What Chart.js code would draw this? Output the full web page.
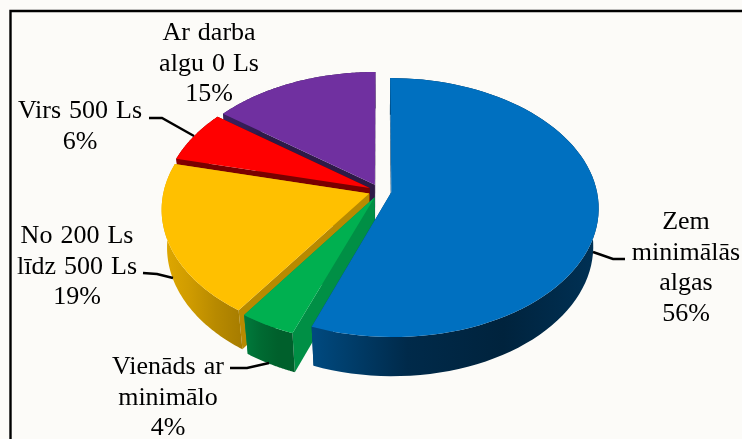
<!DOCTYPE html>
<html lang="lv">
<head>
<meta charset="utf-8">
<title>Darba alga</title>
<style>
  html, body { margin: 0; padding: 0; background: #FCFBF8; }
  #wrap { width: 742px; height: 439px; overflow: hidden; }
</style>
<script src="https://cdn.jsdelivr.net/npm/chart.js@4/dist/chart.umd.js"></script>
</head>
<body>
<div id="wrap"><canvas id="pie" width="742" height="439"></canvas></div>
<script>
const categories = ['Zem minimālās algas', 'Vienāds ar minimālo', 'No 200 Ls līdz 500 Ls', 'Virs 500 Ls', 'Ar darba algu 0 Ls'];
// they round to the printed percentages
const shares = [55.7, 3.9, 19.2, 6.5, 14.7];

const topColors = ['#0070C0', '#00B050', '#FFC000', '#FF0000', '#7030A0'];
const cutColors = ['#003E6C', '#008F45', '#B88A00', '#7A0000', '#2E1A47'];
const rimColors = [
  ['#004A80', '#002A4A', '#00233D', '#003155'],
  ['#007A3C', '#006A32', '#00602C', '#00602C'],
  ['#E0A900', '#D09C00', '#B88A00', '#A67C00'],
  ['#8A0000', '#7A0000', '#7A0000', '#7A0000'],
  ['#3A2060', '#2E1A47', '#2E1A47', '#2E1A47']
];

// label text, centre x, first baseline
const labels = [
  { lines: ['Zem', 'minimālās', 'algas', '56%'], x: 686, y: 229 },
  { lines: ['Vienāds ar', 'minimālo', '4%'], x: 168, y: 374 },
  { lines: ['No 200 Ls', 'līdz 500 Ls', '19%'], x: 77, y: 243 },
  { lines: ['Virs 500 Ls', '6%'], x: 80, y: 118 },
  { lines: ['Ar darba', 'algu 0 Ls', '15%'], x: 209, y: 40 }
];
const leaders = [
  [[593, 252], [613, 259], [625, 259]],
  [[230, 368], [247, 368], [269, 363]],
  [[143, 273], [157, 274], [173, 278]],
  [[149, 118], [162, 118], [194, 136]]
];

// draw order, far slices first
const paintOrder = [4, 3, 2, 1, 0];

// tilt and perspective of the pie
const TILT = 0.62, PERSP = 0.118, DEPTH = 0.19, SINK = 0.025;

function project(el, X, Y, z){
  const w = 1 - PERSP * Y + SINK * z;
  return {
    x: el.x + el.outerRadius * X / w,
    y: el.y + el.outerRadius * (TILT * Y + DEPTH * z) / w
  };
}

function rimPoints(el, z, reverse){
  const pts = [];
  const ex = el.options.offset / el.outerRadius;
  const mid = (el.startAngle + el.endAngle) / 2;
  const steps = 80;
  for(let i = 0; i <= steps; i++){
    const t = reverse ? 1 - i / steps : i / steps;
    const a = el.startAngle + (el.endAngle - el.startAngle) * t;
    pts.push(project(el, Math.cos(a) + ex * Math.cos(mid), Math.sin(a) + ex * Math.sin(mid), z));
  }
  return pts;
}

function fillPoly(ctx, pts, fill){
  ctx.beginPath();
  pts.forEach((p, i) => i ? ctx.lineTo(p.x, p.y) : ctx.moveTo(p.x, p.y));
  ctx.closePath();
  ctx.fillStyle = fill;
  ctx.fill();
}

const pie3d = {
  id: 'pie3d',
  beforeDraw(chart){
    const ctx = chart.ctx;
    ctx.save();
    ctx.fillStyle = '#FCFBF8';
    ctx.fillRect(0, 0, 742, 439);
    ctx.strokeStyle = '#000';
    ctx.lineWidth = 2.4;
    ctx.beginPath();
    ctx.moveTo(10.5, 439);
    ctx.lineTo(10.5, 11);
    ctx.lineTo(742, 11);
    ctx.stroke();
    ctx.restore();
  },
  // the arcs come from the pie controller, only their painting is tilted
  beforeDatasetDraw(chart){
    const ctx = chart.ctx;
    const arcs = chart.getDatasetMeta(0).data;
    ctx.save();
    paintOrder.forEach(i => {
      const el = arcs[i];
      const ex = el.options.offset / el.outerRadius;
      const mid = (el.startAngle + el.endAngle) / 2;
      const top = rimPoints(el, 0, false);
      const low = rimPoints(el, 1, true);
      const apexTop = project(el, ex * Math.cos(mid), ex * Math.sin(mid), 0);
      const apexLow = project(el, ex * Math.cos(mid), ex * Math.sin(mid), 1);

      fillPoly(ctx, [apexTop, top[0], low[low.length - 1], apexLow], cutColors[i]);
      fillPoly(ctx, [apexTop, top[top.length - 1], low[0], apexLow], cutColors[i]);

      const xs = top.concat(low).map(p => p.x);
      const grad = ctx.createLinearGradient(Math.min(...xs), 0, Math.max(...xs), 0);
      rimColors[i].forEach((c, k) => grad.addColorStop(k / 3, c));
      fillPoly(ctx, top.concat(low), grad);

      fillPoly(ctx, [apexTop].concat(top), topColors[i]);
    });
    ctx.restore();
    return false;
  },
  afterDraw(chart){
    const ctx = chart.ctx;
    ctx.save();
    ctx.strokeStyle = '#000';
    ctx.lineWidth = 2.4;
    leaders.forEach(line => {
      ctx.beginPath();
      line.forEach((p, i) => i ? ctx.lineTo(p[0], p[1]) : ctx.moveTo(p[0], p[1]));
      ctx.stroke();
    });
    ctx.fillStyle = '#000';
    ctx.font = '26px "Liberation Serif"';
    ctx.wordSpacing = '1.5px';
    ctx.textAlign = 'center';
    ctx.textBaseline = 'alphabetic';
    labels.forEach(l => {
      l.lines.forEach((t, i) => ctx.fillText(t, l.x, l.y + i * 30.6));
    });
    ctx.restore();
  }
};

new Chart(document.getElementById('pie'), {
  type: 'pie',
  data: {
    labels: categories,
    datasets: [{
      data: shares,
      backgroundColor: topColors,
      borderWidth: 0,
      offset: 11.5
    }]
  },
  options: {
    responsive: false,
    animation: false,
    events: [],
    radius: 205.5,
    layout: { padding: { left: 18, bottom: 57 } },
    plugins: {
      legend: { display: false },
      tooltip: { enabled: false }
    }
  },
  plugins: [pie3d]
});
</script>
</body>
</html>
